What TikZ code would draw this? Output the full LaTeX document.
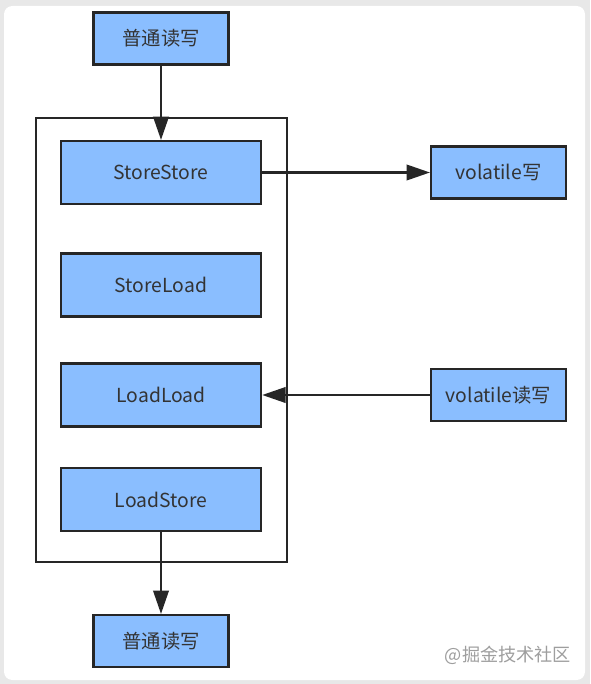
\documentclass[tikz,border=0pt]{standalone}
\usepackage{fontspec}
\setmainfont{Noto Sans CJK SC}
\usetikzlibrary{arrows.meta, positioning}
\definecolor{boxblue}{RGB}{138,190,255}
\definecolor{linegray}{RGB}{38,38,38}
\definecolor{pagegray}{RGB}{232,232,232}

\begin{document}
\begin{tikzpicture}[x=0.03cm, y=-0.03cm, >={Triangle[length=0.7cm,width=0.46cm]},
        barrier/.style={rectangle, draw=linegray, fill=boxblue, line width=2pt, minimum width=6.0cm, minimum height=1.88cm, font=\fontsize{16.5}{20}\selectfont, text=black!80},
        access/.style={rectangle, draw=linegray, fill=boxblue, line width=2pt, minimum width=4.04cm, minimum height=1.55cm, font=\fontsize{16.5}{20}\selectfont, text=black!80},
        link/.style={draw=linegray, line width=2.2pt, ->}]
        \useasboundingbox (0,0) rectangle (590,684);
        \fill[pagegray] (0,0) rectangle (590,684);
        \fill[white, rounded corners=0.25cm] (4,6) rectangle (585,680);

        \node at (161, 38.5) [access] (read_top) {普通读写};

        \draw[linegray, line width=1.8pt]   (36, 118) rectangle (287, 562);
        \node at (161, 172.5) [barrier] (store_store) {StoreStore};
        \node at (161, 285) [barrier] (store_load) {StoreLoad};
        \node at (161, 395) [barrier] (load_load) {LoadLoad};
        \node at (161, 499.5) [barrier] (load_store) {LoadStore};

        \node at (161, 641) [access] (read_bottom) {普通读写};

        \node at (498.5, 172.5) [access] (vol_write) {volatile写};
        \node at (498.5, 395) [access] (vol_rw) {volatile读写};

        \node at (508, 655) [font=\fontsize{15.5}{18}\selectfont, text=black!38] (mark) {@掘金技术社区};

        \draw   (read_top)    edge[link]  (store_store)
                (store_store) edge[link]  (vol_write)
                (vol_rw)      edge[link]  (load_load)
                (load_store)  edge[link]  (read_bottom)
            ;

\end{tikzpicture}
\end{document}
